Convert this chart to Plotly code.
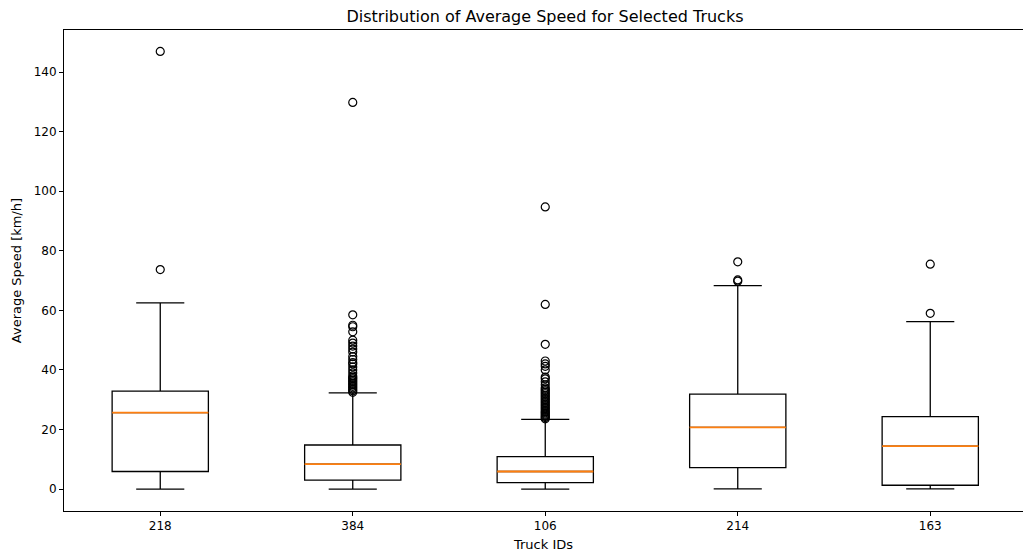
import plotly.graph_objects as go

truck_ids = ["218", "384", "106", "214", "163"]
positions = [1, 2, 3, 4, 5]
lower_whisker = [0.0, 0.0, 0.0, 0.1, 0.1]
q1 = [5.9, 3.0, 2.2, 7.2, 1.3]
median = [25.7, 8.4, 5.9, 20.7, 14.4]
q3 = [32.9, 14.8, 10.9, 31.9, 24.3]
upper_whisker = [62.5, 32.3, 23.4, 68.3, 56.2]

outliers_218 = [73.7, 146.9]
outliers_384 = [32.5, 33.0, 33.5, 34.0, 34.5, 35.0, 35.5, 36.0, 36.5, 37.0, 37.5, 38.0,
                39.0, 40.0, 41.0, 42.0, 42.5, 43.5, 44.5, 46.0, 47.0, 48.0, 49.0, 50.0,
                52.8, 54.5, 55.0, 58.5, 129.8]
outliers_106 = [23.6, 24.0, 24.4, 24.8, 25.2, 25.6, 26.0, 26.5, 27.0, 27.5, 28.0, 28.5,
                29.0, 29.5, 30.0, 30.5, 31.0, 31.5, 32.0, 32.5, 33.0, 33.5, 34.0, 35.0,
                36.0, 37.0, 37.6, 40.0, 41.2, 42.0, 43.0, 48.6, 62.0, 94.7]
outliers_214 = [69.8, 70.2, 76.3]
outliers_163 = [59.0, 75.5]
outliers = [outliers_218, outliers_384, outliers_106, outliers_214, outliers_163]

BOX_W = 0.5
FONT = "DejaVu Sans"

W, H = 1023, 554

fig = go.Figure()
fig.add_trace(go.Box(
    x=positions, q1=q1, median=median, q3=q3,
    lowerfence=lower_whisker, upperfence=upper_whisker,
    width=BOX_W, whiskerwidth=0.5,
    line=dict(color="black", width=1.3),
    fillcolor="rgba(255,255,255,0)",
    boxpoints=False, showlegend=False, hoverinfo="skip",
))

# orange median lines
mx, my = [], []
for p, m in zip(positions, median):
    mx += [p - BOX_W / 2, p + BOX_W / 2, None]
    my += [m, m, None]
fig.add_trace(go.Scatter(x=mx, y=my, mode="lines",
                         line=dict(color="#ff7f0e", width=1.8),
                         showlegend=False, hoverinfo="skip"))

# outliers
ox, oy = [], []
for p, vals in zip(positions, outliers):
    ox += [p] * len(vals)
    oy += vals
fig.add_trace(go.Scatter(x=ox, y=oy, mode="markers",
                         marker=dict(symbol="circle-open", size=8,
                                     color="black", line=dict(width=1.2)),
                         showlegend=False, hoverinfo="skip"))

fig.update_layout(
    width=W, height=H,
    margin=dict(l=64, r=0, t=30, b=43),
    plot_bgcolor="white", paper_bgcolor="white",
    font=dict(family=FONT, size=12, color="black"),
    title=dict(text="Distribution of Average Speed for Selected Trucks",
               x=545 / W, xanchor="center", y=1 - 16 / H, yanchor="middle",
               font=dict(family=FONT, size=16, color="black")),
    xaxis=dict(range=[0.5, 0.5 + 959 / 192.5],
               tickvals=positions, ticktext=truck_ids,
               showgrid=False, zeroline=False,
               showline=True, linecolor="black", linewidth=1, mirror=True,
               ticks="outside", ticklen=4, tickwidth=1, tickcolor="black",
               tickfont=dict(size=12),
               title=dict(text="Truck IDs", font=dict(size=13), standoff=7)),
    yaxis=dict(range=[-7.35, 154.1],
               tickvals=[0, 20, 40, 60, 80, 100, 120, 140],
               showgrid=False, zeroline=False,
               showline=True, linecolor="black", linewidth=1, mirror=False,
               ticks="outside", ticklen=4, tickwidth=1, tickcolor="black",
               tickfont=dict(size=12),
               title=dict(text="Average Speed [km/h]", font=dict(size=13), standoff=9)),
)

fig.write_html("out.html",
               config={"displayModeBar": False},
               post_script="document.body.style.margin='0';"
                           "document.documentElement.style.overflow='hidden';"
                           "document.body.style.overflow='hidden';")
